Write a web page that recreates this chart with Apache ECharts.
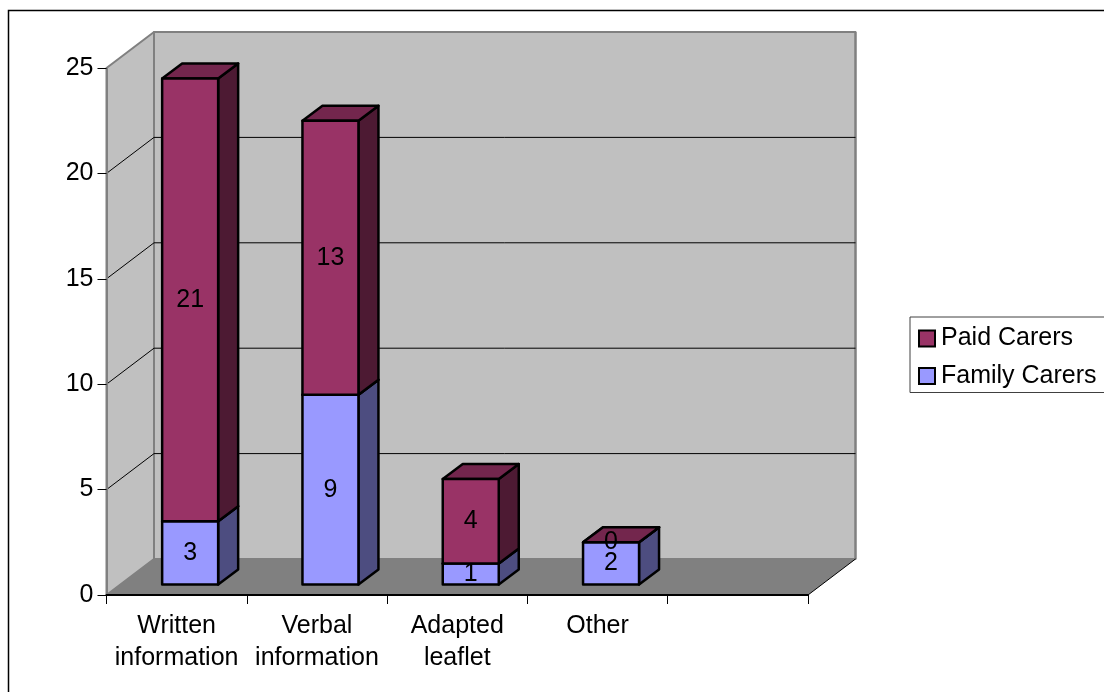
<!DOCTYPE html>
<html><head><meta charset="utf-8">
<script src="https://cdn.jsdelivr.net/npm/echarts@6/dist/echarts.min.js"></script>
<style>html,body{margin:0;padding:0;background:#fff}#c{width:1104px;height:692px}</style>
</head><body><div id="c"></div>
<script>
const categories = ['Written\ninformation', 'Verbal\ninformation', 'Adapted\nleaflet', 'Other', ''];
const familyCarers = [3, 9, 1, 2, null];
const paidCarers = [21, 13, 4, 0, null];
const yTicks = [0, 5, 10, 15, 20, 25];

const FONT = '"Liberation Sans", Arial, sans-serif';
const FS = 25;
const WALL_DX = 47.5, WALL_DY = -36;    // depth of the chart box
const BAR_DX = 20, BAR_DY = -15;        // depth of a bar
const BAR_OX = 13.5, BAR_OY = -10.5;    // bar offset from the front of the box
const BAR_W = 56;

function poly(points, fill, stroke, lw) {
  return { type: 'polygon', shape: { points }, style: { fill, stroke, lineWidth: lw, lineJoin: 'round' } };
}
function seg(a, b, stroke, lw) {
  return { type: 'line', shape: { x1: a[0], y1: a[1], x2: b[0], y2: b[1] }, style: { stroke, lineWidth: lw } };
}
function wallRender(params, api) {
  const xL = params.coordSys.x, w = params.coordSys.width;
  const base = api.coord([0, 0])[1], top = api.coord([0, 25])[1];
  const xR = xL + w;
  const d = (p) => [p[0] + WALL_DX, p[1] + WALL_DY];
  const kids = [
    poly([d([xL, top]), d([xR, top]), d([xR, base]), d([xL, base])], '#c0c0c0', '#808080', 2),
    poly([[xL, top], d([xL, top]), d([xL, base]), [xL, base]], '#c0c0c0', '#808080', 2),
    poly([[xL, base], d([xL, base]), d([xR, base]), [xR, base]], '#808080', 'none', 0),
    seg(d([xL, top]), d([xR, top]), '#808080', 2),
    seg(d([xR, top]), d([xR, base]), '#808080', 2)
  ];
  yTicks.slice(1, -1).forEach(v => {
    const y = api.coord([0, v])[1];
    kids.push(seg([xL, y], d([xL, y]), '#000', 1));
    kids.push(seg(d([xL, y]), d([xR, y]), '#000', 1));
  });
  kids.push(seg([xR, base], d([xR, base]), '#000', 1));
  return { type: 'group', children: kids };
}
function barRender(front, side, top, values, bases) {
  return function (params, api) {
    const i = params.dataIndex, v = values[i], b = bases[i];
    if (v == null) return null;
    const c = api.coord([i, b]);
    const yB = c[1] + BAR_OY, yT = api.coord([i, b + v])[1] + BAR_OY;
    const xA = c[0] + BAR_OX - BAR_W / 2, xZ = xA + BAR_W;
    const kids = [
      poly([[xZ, yT], [xZ + BAR_DX, yT + BAR_DY], [xZ + BAR_DX, yB + BAR_DY], [xZ, yB]], side, '#000', 2.5),
      poly([[xA, yT], [xA + BAR_DX, yT + BAR_DY], [xZ + BAR_DX, yT + BAR_DY], [xZ, yT]], top, '#000', 2.5)
    ];
    if (v > 0) kids.push(poly([[xA, yT], [xZ, yT], [xZ, yB], [xA, yB]], front, '#000', 2.5));
    return { type: 'group', children: kids };
  };
}
function labelRender(values, bases) {
  return function (params, api) {
    const i = params.dataIndex, v = values[i], b = bases[i];
    if (v == null) return null;
    const c = api.coord([i, b + v / 2]);
    return { type: 'text', style: { text: String(v), x: c[0] + BAR_OX, y: c[1] + BAR_OY, align: 'center', verticalAlign: 'middle',
      font: FS + 'px ' + FONT, fill: '#000' } };
  };
}
const zeros = familyCarers.map(() => 0);
const idx = categories.map((_, i) => [i]);

const chart = echarts.init(document.getElementById('c'), null, { renderer: 'canvas' });
chart.setOption({
  animation: false,
  backgroundColor: '#fff',
  graphic: [{ type: 'rect', shape: { x: 8.5, y: 10.5, width: 1130, height: 720 }, style: { fill: 'none', stroke: '#000', lineWidth: 1.5 }, silent: true, z: 0 }],
  grid: { left: 106.5, right: 296, top: 68, bottom: 97, containLabel: false },
  legend: {
    orient: 'vertical', left: 910, top: 317, padding: [9, 20, 4, 8],
    backgroundColor: '#fff', borderColor: '#404040', borderWidth: 1, itemGap: 12.5,
    itemWidth: 16, itemHeight: 16, icon: 'rect', itemStyle: { borderColor: '#000', borderWidth: 2 },
    textStyle: { fontFamily: FONT, fontSize: FS, color: '#000', padding: [0, 0, 0, 1] },
    data: ['Paid Carers', 'Family Carers']
  },
  xAxis: {
    type: 'category', data: categories, boundaryGap: true,
    axisLine: { show: true, lineStyle: { color: '#000', width: 2 } },
    axisTick: { show: true, alignWithLabel: false, length: 9, lineStyle: { color: '#000' } },
    axisLabel: { interval: 0, fontFamily: FONT, fontSize: FS, color: '#000', margin: 15, lineHeight: 32 },
    splitLine: { show: false }, z: 20
  },
  yAxis: {
    type: 'value', min: 0, max: 25, interval: 5,
    axisLine: { show: true, lineStyle: { color: '#808080', width: 2 } },
    axisTick: { show: true, length: 9, lineStyle: { color: '#000' } },
    axisLabel: { fontFamily: FONT, fontSize: FS, color: '#000', margin: 13 },
    splitLine: { show: false }, z: 20
  },
  series: [
    { type: 'custom', name: 'walls', silent: true, clip: false, data: [[0]], z: 1, renderItem: wallRender, encode: { x: 0 } },
    { type: 'custom', name: 'Family Carers', silent: true, clip: false, data: idx, z: 3, itemStyle: { color: '#9999ff', borderColor: '#000', borderWidth: 2 },
      renderItem: barRender('#9999ff', '#4d4d80', '#4d4d80', familyCarers, zeros), encode: { x: 0 } },
    { type: 'custom', name: 'Paid Carers', silent: true, clip: false, data: idx, z: 4, itemStyle: { color: '#993366', borderColor: '#000', borderWidth: 2 },
      renderItem: barRender('#993366', '#4d1a33', '#73264d', paidCarers, familyCarers), encode: { x: 0 } },
    { type: 'custom', name: 'familyLabels', silent: true, clip: false, data: idx, z: 5, renderItem: labelRender(familyCarers, zeros), encode: { x: 0 } },
    { type: 'custom', name: 'paidLabels', silent: true, clip: false, data: idx, z: 5, renderItem: labelRender(paidCarers, familyCarers), encode: { x: 0 } }
  ]
});
</script></body></html>
